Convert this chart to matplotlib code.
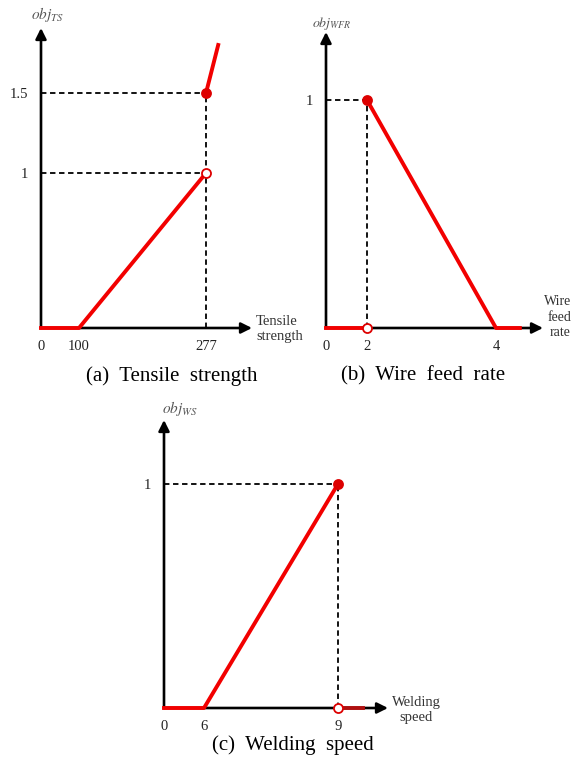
import numpy as np
import matplotlib
matplotlib.use("Agg")
from matplotlib import pyplot as plt

plt.rcParams['font.family'] = ['Liberation Serif', 'DejaVu Serif']
plt.rcParams['mathtext.fontset'] = 'stix'

W, H = 576, 765

# ---- data (schematic objective functions) ----
ts_ticks = [0, 100, 277]
ts_yticks = [1, 1.5]
ts_low_x = [0, 100, 277]
ts_low_y = [0, 0, 1]
ts_high_x = [277, 294]
ts_high_y = [1.5, 1.8]

wfr_ticks = [0, 2, 4]
wfr_yticks = [1]
wfr_low_x = [0, 2]
wfr_low_y = [0, 0]
wfr_high_x = [2, 4, 4.37]
wfr_high_y = [1, 0, 0]

ws_ticks = [0, 6, 9]
ws_yticks = [1]
ws_low_x = [0, 6, 9]
ws_low_y = [0, 0, 1]
ws_tail_x = [9, 9.56]
ws_tail_y = [0, 0]

RED = '#f20000'
DOT = '#dd0000'


def px(x, y):
    return x / W, 1 - y / H


def piecewise(vals, pos):
    vals = np.asarray(vals, float)
    pos = np.asarray(pos, float)

    def make(a, b):
        def f(x):
            x = np.asarray(x, float)
            y = np.interp(x, a, b)
            y = np.where(x > a[-1], b[-1] + (x - a[-1]) * (b[-1] - b[-2]) / (a[-1] - a[-2]), y)
            y = np.where(x < a[0], b[0] + (x - a[0]) * (b[1] - b[0]) / (a[1] - a[0]), y)
            return y
        return f
    return make(vals, pos), make(pos, vals)


def panel(origin, tip, xt, xpos, yt, ypos):
    ox, oy = origin
    tx, ty = tip
    fx, fy = px(ox, oy)
    ax = fig.add_axes([fx, fy, (tx - ox) / W, (oy - ty) / H])
    xf, xi = piecewise([0] + list(xt[1:]), [0] + xpos)
    yf, yi = piecewise([0] + list(yt), [0] + ypos)
    ax.set_xscale('function', functions=(xf, xi))
    ax.set_yscale('function', functions=(yf, yi))
    ax.set_xlim(0, float(xi(tx - ox)))
    ax.set_ylim(0, float(yi(oy - ty)))
    for s in ax.spines.values():
        s.set_visible(False)
    ax.patch.set_visible(False)
    ax.annotate('', xy=(1.0, 0), xytext=(0, 0), xycoords='axes fraction',
                arrowprops=dict(arrowstyle='-|>', lw=1.9, color='black',
                                mutation_scale=16, shrinkA=0, shrinkB=0))
    ax.annotate('', xy=(0, 1.0), xytext=(0, 0), xycoords='axes fraction',
                arrowprops=dict(arrowstyle='-|>', lw=1.9, color='black',
                                mutation_scale=16, shrinkA=0, shrinkB=0))
    ax.set_xticks(xt)
    ax.set_xticklabels([str(v) for v in xt])
    ax.set_yticks(yt)
    ax.set_yticklabels([str(v) for v in yt])
    ax.tick_params(length=0, labelsize=10.5, colors='#222222')
    ax.tick_params(axis='x', pad=9)
    ax.tick_params(axis='y', pad=9)
    ax.minorticks_off()
    return ax


def dashed(ax, xs, ys):
    ax.plot(xs, ys, color='black', lw=1.3, ls=(0, (3, 2)), clip_on=False, zorder=2)


def dot(ax, x, y, filled=True):
    ax.plot([x], [y], 'o', ms=6.5, mfc=DOT if filled else 'white',
            mec=DOT, mew=1.3, clip_on=False, zorder=5)


def objlabel(x, y, sub, size=11):
    fig.text(*px(x, y), '$obj_{' + sub + '}$', ha='center', va='center',
             fontsize=size, color='#555555')


fig = plt.figure(figsize=(W / 100, H / 100), dpi=100)

# (a) tensile strength
ax = panel((41, 328), (252, 28), ts_ticks, [38, 165], ts_yticks, [155, 235])
dashed(ax, [0, 277], [1.5, 1.5])
dashed(ax, [0, 277], [1, 1])
dashed(ax, [277, 277], [0, 1.5])
ax.plot(ts_low_x, ts_low_y, color=RED, lw=2.8, clip_on=False, zorder=4)
ax.plot(ts_high_x, ts_high_y, color=RED, lw=2.8, clip_on=False, zorder=4)
dot(ax, 277, 1, filled=False)
dot(ax, 277, 1.5)
objlabel(47, 15, 'TS')
fig.text(*px(256, 329), 'Tensile\nstrength', ha='left', va='center', fontsize=10.5,
         color='#333333', linespacing=1.25)
fig.text(*px(172, 376), '(a)  Tensile  strength', ha='center', va='center', fontsize=15)

# (b) wire feed rate
ax = panel((326, 328), (543, 32), wfr_ticks, [41, 170], wfr_yticks, [228])
dashed(ax, [0, 2], [1, 1])
dashed(ax, [2, 2], [0, 1])
ax.plot(wfr_low_x, wfr_low_y, color=RED, lw=2.8, clip_on=False, zorder=4)
ax.plot(wfr_high_x, wfr_high_y, color=RED, lw=2.8, clip_on=False, zorder=4)
dot(ax, 2, 0, filled=False)
dot(ax, 2, 1)
objlabel(332, 23, 'WFR', size=10)
fig.text(*px(571, 317), 'Wire\nfeed\nrate', ha='right', va='center', fontsize=10,
         color='#333333', linespacing=1.25, multialignment='right')
fig.text(*px(423, 376), '(b)  Wire  feed  rate', ha='center', va='center', fontsize=15)

# (c) welding speed
ax = panel((164, 708), (388, 420), ws_ticks, [40, 174], ws_yticks, [224])
dashed(ax, [0, 9], [1, 1])
dashed(ax, [9, 9], [0, 1])
ax.plot(ws_low_x, ws_low_y, color=RED, lw=2.8, clip_on=False, zorder=4)
ax.plot(ws_tail_x, ws_tail_y, color='#b01010', lw=2.8, clip_on=False, zorder=4)
dot(ax, 9, 0, filled=False)
dot(ax, 9, 1)
objlabel(180, 408, 'WS')
fig.text(*px(416, 710), 'Welding\nspeed', ha='center', va='center', fontsize=10.5,
         color='#333333', linespacing=1.25)
fig.text(*px(293, 745), '(c)  Welding  speed', ha='center', va='center', fontsize=15)

fig.savefig('out.png', dpi=100)
